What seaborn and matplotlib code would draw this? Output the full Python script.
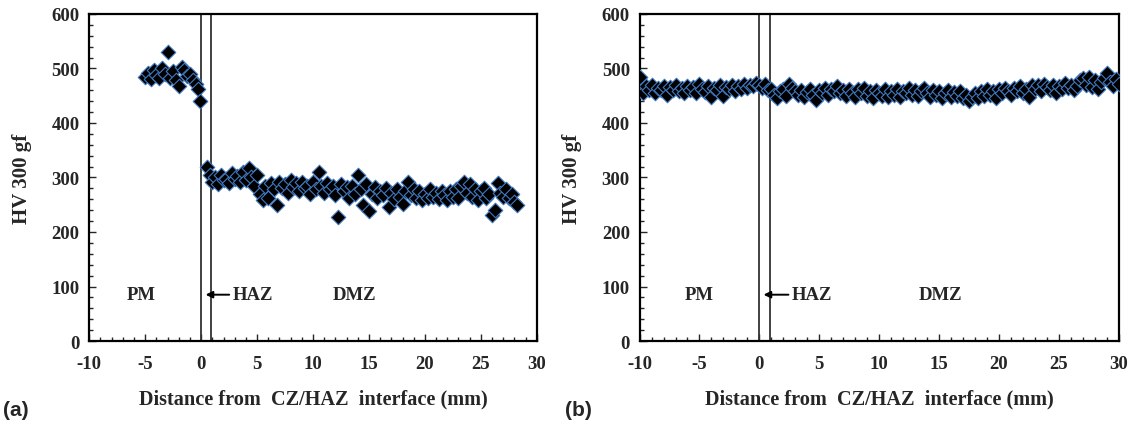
import numpy as np
import pandas as pd
import seaborn as sns
import matplotlib.pyplot as plt
from matplotlib.ticker import MultipleLocator

# (a) hardness profile, parent metal side and weld side
pm_a_x = [-5.0, -4.75, -4.5, -4.25, -4.0, -3.75, -3.5, -3.25, -3.0, -2.75, -2.5,
          -2.25, -2.0, -1.75, -1.5, -1.25, -1.0, -0.75, -0.5, -0.25, -0.1]
pm_a_hv = [485, 492, 480, 497, 488, 483, 500, 490, 530, 482, 495,
           478, 468, 503, 498, 486, 490, 478, 472, 462, 440]

dmz_a_x = [0.5, 0.75, 1.0, 1.25, 1.5, 1.75, 2.0, 2.25, 2.5, 2.75, 3.0, 3.25,
           3.5, 3.75, 4.0, 4.25, 4.5, 4.75, 5.0, 5.25, 5.5, 5.75, 6.0, 6.25,
           6.5, 6.75, 7.0, 7.25, 7.5, 7.75, 8.0, 8.25, 8.5, 8.75, 9.0, 9.25,
           9.5, 9.75, 10.0, 10.25, 10.5, 10.75, 11.0, 11.25, 11.5, 11.75, 12.0, 12.25,
           12.5, 12.75, 13.0, 13.25, 13.5, 13.75, 14.0, 14.25, 14.5, 14.75, 15.0, 15.25,
           15.5, 15.75, 16.0, 16.25, 16.5, 16.75, 17.0, 17.25, 17.5, 17.75, 18.0, 18.25,
           18.5, 18.75, 19.0, 19.25, 19.5, 19.75, 20.0, 20.25, 20.5, 20.75, 21.0, 21.25,
           21.5, 21.75, 22.0, 22.25, 22.5, 22.75, 23.0, 23.25, 23.5, 23.75, 24.0, 24.25,
           24.5, 24.75, 25.0, 25.25, 25.5, 25.75, 26.0, 26.25, 26.5, 26.75, 27.0, 27.25,
           27.5, 27.75, 28.0, 28.25]
dmz_a_hv = [320, 305, 292, 300, 288, 305, 295, 298, 290, 308, 297, 302,
            292, 310, 296, 318, 300, 285, 305, 270, 258, 285, 262, 290,
            278, 250, 292, 280, 288, 272, 295, 282, 290, 275, 292, 280,
            285, 270, 292, 278, 310, 285, 272, 290, 278, 285, 268, 228,
            288, 275, 282, 262, 285, 270, 305, 278, 250, 288, 238, 270,
            282, 262, 275, 268, 280, 245, 272, 260, 278, 265, 252, 275,
            292, 268, 278, 262, 275, 258, 270, 262, 278, 265, 272, 260,
            275, 268, 258, 275, 265, 278, 262, 285, 292, 272, 288, 265,
            278, 258, 275, 280, 262, 270, 232, 240, 290, 272, 265, 278,
            262, 270, 255, 250]

# (b) hardness profile
b_x = [-10.0, -9.75, -9.5, -9.25, -9.0, -8.75, -8.5, -8.25, -8.0, -7.75, -7.5, -7.25,
       -7.0, -6.75, -6.5, -6.25, -6.0, -5.75, -5.5, -5.25, -5.0, -4.75, -4.5, -4.25,
       -4.0, -3.75, -3.5, -3.25, -3.0, -2.75, -2.5, -2.25, -2.0, -1.75, -1.5, -1.25,
       -1.0, -0.75, -0.5, -0.25, 0.0, 0.25, 0.5, 0.75, 1.0, 1.25, 1.5, 1.75,
       2.0, 2.25, 2.5, 2.75, 3.0, 3.25, 3.5, 3.75, 4.0, 4.25, 4.5, 4.75,
       5.0, 5.25, 5.5, 5.75, 6.0, 6.25, 6.5, 6.75, 7.0, 7.25, 7.5, 7.75,
       8.0, 8.25, 8.5, 8.75, 9.0, 9.25, 9.5, 9.75, 10.0, 10.25, 10.5, 10.75,
       11.0, 11.25, 11.5, 11.75, 12.0, 12.25, 12.5, 12.75, 13.0, 13.25, 13.5, 13.75,
       14.0, 14.25, 14.5, 14.75, 15.0, 15.25, 15.5, 15.75, 16.0, 16.25, 16.5, 16.75,
       17.0, 17.25, 17.5, 17.75, 18.0, 18.25, 18.5, 18.75, 19.0, 19.25, 19.5, 19.75,
       20.0, 20.25, 20.5, 20.75, 21.0, 21.25, 21.5, 21.75, 22.0, 22.25, 22.5, 22.75,
       23.0, 23.25, 23.5, 23.75, 24.0, 24.25, 24.5, 24.75, 25.0, 25.25, 25.5, 25.75,
       26.0, 26.25, 26.5, 26.75, 27.0, 27.25, 27.5, 27.75, 28.0, 28.25, 28.5, 28.75,
       29.0, 29.25, 29.5, 29.75, 30.0]
b_hv = [485, 455, 468, 460, 470, 455, 465, 460, 468, 452, 466, 460,
        470, 458, 464, 455, 468, 460, 466, 455, 472, 462, 456, 468,
        448, 465, 460, 470, 450, 466, 462, 470, 458, 468, 462, 472,
        465, 470, 468, 474, 470, 465, 472, 460, 462, 452, 445, 458,
        462, 450, 472, 465, 458, 452, 460, 448, 456, 462, 452, 442,
        460, 455, 465, 452, 462, 458, 468, 455, 460, 450, 462, 455,
        448, 462, 455, 465, 450, 458, 446, 460, 455, 450, 463, 448,
        458, 452, 462, 448, 458, 455, 464, 452, 460, 450, 458, 465,
        455, 448, 460, 452, 458, 446, 455, 460, 448, 456, 450, 458,
        445, 452, 440, 448, 455, 445, 458, 450, 462, 452, 458, 445,
        462, 455, 465, 458, 452, 465, 458, 468, 455, 462, 448, 470,
        462, 470, 458, 472, 466, 460, 470, 455, 468, 462, 474, 465,
        470, 460, 468, 478, 482, 470, 485, 466, 478, 462, 475, 482,
        492, 475, 468, 480, 472]

df_a = pd.DataFrame({"x": pm_a_x + dmz_a_x, "hv": pm_a_hv + dmz_a_hv})
df_b = pd.DataFrame({"x": b_x, "hv": b_hv})

sns.set_style("ticks")
plt.rcParams["font.family"] = ["Liberation Serif", "DejaVu Serif"]
plt.rcParams["font.weight"] = "bold"
plt.rcParams["axes.unicode_minus"] = False

fig = plt.figure(figsize=(11.3, 4.27), dpi=100)
ax_a = fig.add_axes([0.079, 0.199, 0.396, 0.766])
ax_b = fig.add_axes([0.566, 0.199, 0.424, 0.766])

for ax, df, haz_edge, pm_x, haz_tx, dmz_x in [
    (ax_a, df_a, 0.9, -5.4, 2.8, 13.7),
    (ax_b, df_b, 0.85, -5.0, 2.7, 15.1),
]:
    sns.scatterplot(data=df, x="x", y="hv", ax=ax, marker="D", s=55,
                    color="black", edgecolor="#3f78c0", linewidth=0.8,
                    zorder=3, legend=False)
    ax.axvline(0, color="#333333", lw=1.3, zorder=2)
    ax.axvline(haz_edge, color="#333333", lw=1.3, zorder=2)

    ax.set_xlim(-10, 30)
    ax.set_ylim(0, 600)
    ax.xaxis.set_major_locator(MultipleLocator(5))
    ax.xaxis.set_minor_locator(MultipleLocator(1))
    ax.yaxis.set_major_locator(MultipleLocator(100))
    ax.yaxis.set_minor_locator(MultipleLocator(20))
    ax.tick_params(which="both", direction="in", labelsize=13.5, width=1)
    ax.tick_params(which="major", length=5)
    ax.tick_params(axis="x", which="major", pad=10)
    ax.tick_params(axis="y", which="major", pad=7)
    ax.tick_params(which="minor", length=3)
    for lab in ax.get_xticklabels() + ax.get_yticklabels():
        lab.set_fontweight("bold")
    for sp in ax.spines.values():
        sp.set_linewidth(1.6)
        sp.set_color("black")

    ax.set_xlabel("Distance from  CZ/HAZ  interface (mm)", fontsize=14.6,
                  fontweight="bold", labelpad=12)
    ax.set_ylabel("HV 300 gf", fontsize=15, fontweight="bold", labelpad=14)

    ax.text(pm_x, 85, "PM", ha="center", va="center", fontsize=13.5, fontweight="bold")
    ax.text(dmz_x, 85, "DMZ", ha="center", va="center", fontsize=13.5, fontweight="bold")
    ax.annotate("HAZ", xy=(haz_edge - 0.5, 85), xytext=(haz_tx, 85),
                ha="left", va="center", fontsize=13.5, fontweight="bold",
                arrowprops=dict(arrowstyle="-|>", color="black", lw=1.4,
                                mutation_scale=10, shrinkA=0, shrinkB=0))

fig.text(0.003, 0.025, "(a)", family=["Liberation Sans", "DejaVu Sans"],
         fontsize=15, fontweight="bold")
fig.text(0.500, 0.025, "(b)", family=["Liberation Sans", "DejaVu Sans"],
         fontsize=15, fontweight="bold")

fig.savefig("out.png", dpi=100)
